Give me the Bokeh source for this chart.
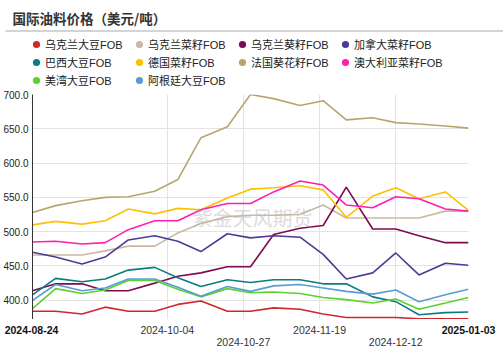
import pandas as pd
from bokeh.plotting import figure
from bokeh.layouts import column
from bokeh.models import (Range1d, FixedTicker, NumeralTickFormatter, Legend, LegendItem,
                          Label, BoxAnnotation, Grid)
from bokeh.core.properties import value
from bokeh.embed import file_html
from bokeh.resources import INLINE

# ---------------- data ----------------
dates = ["2024-08-24", "2024-08-31", "2024-09-08", "2024-09-15", "2024-09-22", "2024-09-30",
         "2024-10-07", "2024-10-14", "2024-10-22", "2024-10-29", "2024-11-05", "2024-11-13",
         "2024-11-20", "2024-11-27", "2024-12-05", "2024-12-12", "2024-12-19", "2024-12-27",
         "2025-01-03"]

names = ["乌克兰大豆FOB", "乌克兰菜籽FOB", "乌克兰葵籽FOB", "加拿大菜籽FOB",
         "巴西大豆FOB", "德国菜籽FOB", "法国葵花籽FOB", "澳大利亚菜籽FOB",
         "美湾大豆FOB", "阿根廷大豆FOB"]

ua_soy = [384, 384, 380, 390, 384, 384, 394, 399, 384, 384, 389, 387, 380, 375, 375, 375, 373, 373, 373]
ua_rape = [466, 466, 466, 472, 479, 479, 498, 512, 522, 524, 524, 525, 539, 520, 520, 520, 520, 530, 530]
ua_sun = [414, 424, 424, 414, 414, 425, 435, 440, 449, 449, 496, 505, 509, 565, 504, 504, 494, 484, 484]
ca_rape = [470, 463, 453, 463, 488, 494, 486, 471, 497, 491, 494, 492, 467, 431, 440, 469, 437, 454, 451]
br_soy = [408, 432, 427, 431, 444, 448, 433, 420, 430, 426, 430, 430, 424, 424, 405, 398, 379, 382, 383]
de_rape = [510, 515, 511, 516, 533, 526, 534, 532, 549, 562, 564, 567, 561, 521, 552, 564, 548, 558, 531]
fr_sun = [528, 538, 545, 550, 551, 559, 576, 637, 653, 700, 694, 684, 691, 663, 666, 659, 657, 654, 651]
au_rape = [485, 486, 482, 484, 503, 516, 516, 532, 541, 541, 558, 574, 568, 539, 535, 551, 548, 533, 530]
us_soy = [388, 417, 410, 415, 429, 429, 416, 405, 417, 411, 412, 410, 404, 401, 396, 402, 387, 396, 404]
ar_soy = [400, 423, 414, 418, 431, 431, 419, 406, 420, 413, 421, 423, 418, 413, 409, 415, 398, 408, 416]

series = [ua_soy, ua_rape, ua_sun, ca_rape, br_soy, de_rape, fr_sun, au_rape, us_soy, ar_soy]
colors = ["#d0262d", "#c9b9a3", "#7e0a52", "#4b3b94", "#0a7b83",
          "#ffc000", "#b6a66e", "#ff1fb2", "#5bd12f", "#5b9bd5"]

y_ticks = [400, 450, 500, 550, 600, 650, 700]
x_tick_labels = ["2024-08-24", "2024-10-04", "2024-10-27", "2024-11-19", "2024-12-12", "2025-01-03"]

title_text = "国际油料价格（美元/吨）"
watermark = "紫金天风期货"

# ---------------- geometry ----------------
W = 503
HEAD_H, FOOT_H = 89, 32
MAIN_H = 351 - HEAD_H - FOOT_H
L, R, TOP = 31, 35, 5
FW = W - L - R

CJK = "Liberation Sans, Noto Sans CJK SC"

x = pd.to_datetime(dates)
ms = lambda d: pd.Timestamp(d).value // 10**6
x0, x1 = ms(dates[0]), ms(dates[-1])
tick_ms = [ms(d) for d in x_tick_labels]

# ---------------- header (title, rule, legend) ----------------
head = figure(width=W, height=HEAD_H, x_range=Range1d(0, W), y_range=Range1d(0, HEAD_H),
              x_axis_location=None, y_axis_location=None, output_backend="svg",
              toolbar_location=None, min_border=0, outline_line_color=None, frame_align=False)
head.grid.visible = False
head.add_layout(Label(x=12, y=HEAD_H - 17, x_units="screen", y_units="screen", text=title_text,
                      text_font="Noto Sans CJK SC", text_font_size="13.5px", text_font_style="bold",
                      text_color="#333333", text_baseline="middle", text_align="left"))
head.add_layout(BoxAnnotation(left=5, right=W, bottom=HEAD_H - 31, top=HEAD_H - 30,
                              fill_color="#aaaaaa", fill_alpha=1, line_color=None))
items = []
for name, vals, c in zip(names, series, colors):
    r = head.scatter(x, vals, size=10, fill_color=c, line_color=None)
    items.append(LegendItem(label=name, renderers=[r]))
legend = Legend(items=items, location=(27, 0), orientation="horizontal", ncols=4,
                glyph_width=18, glyph_height=18, label_standoff=0, spacing=0,
                label_width=85, label_height=14, padding=0, margin=0, border_line_color=None,
                background_fill_alpha=0, label_text_font=CJK,
                label_text_font_size="11px", label_text_color="#222222")
head.add_layout(legend, "center")

# ---------------- main chart ----------------
p = figure(width=W, height=MAIN_H, x_axis_type="datetime", output_backend="svg",
           toolbar_location=None, x_axis_location=None, frame_align=False,
           x_range=Range1d(x[0], x[-1]), y_range=Range1d(372, 700),
           min_border_left=L, min_border_right=R, min_border_top=TOP, min_border_bottom=0)
p.outline_line_color = None
p.xgrid.visible = False
p.add_layout(Grid(dimension=0, ticker=FixedTicker(ticks=tick_ms[1:-1]), grid_line_color="#e3e3e3"))

ya = p.yaxis[0]
ya.ticker = FixedTicker(ticks=y_ticks)
ya.formatter = NumeralTickFormatter(format="0.0")
ya.axis_line_color = "#333333"
ya.major_tick_out = 0
ya.major_tick_in = 0
ya.minor_tick_out = 0
ya.minor_tick_in = 0
ya.major_label_standoff = 4
ya.major_label_text_font = "Liberation Sans"
ya.major_label_text_font_size = "10px"
ya.major_label_text_color = "#222222"
p.ygrid.grid_line_color = "#e3e3e3"

for name, vals, c in zip(names, series, colors):
    p.line(x, vals, line_color=c, line_width=1.6)

p.add_layout(Label(x=251 - L, y=102, x_units="screen", y_units="screen",
                   text=watermark, text_font="Noto Sans CJK SC", text_font_size="20px",
                   text_color="#b0b0b0", text_alpha=0.45, text_align="center", text_baseline="middle"))

# ---------------- footer (staggered date labels) ----------------
per_px = (x1 - x0) / FW
foot = figure(width=W, height=FOOT_H, x_range=Range1d(x0 - L * per_px, x1 + R * per_px),
              y_range=Range1d(0, FOOT_H), x_axis_location=None, y_axis_location=None,
              output_backend="svg", toolbar_location=None, min_border=0,
              outline_line_color=None, frame_align=False)
foot.grid.visible = False
edge_idx = [0, len(x_tick_labels) - 1]
row1 = [i for i in range(len(x_tick_labels)) if i in edge_idx or i % 2 == 1]
row2 = [i for i in range(len(x_tick_labels)) if i not in row1]
bold = [i for i in row1 if i in edge_idx]
plain1 = [i for i in row1 if i not in edge_idx]
for idx, yrow, style, col in [(bold, FOOT_H - 10.5, "bold", "#111111"),
                              (plain1, FOOT_H - 10.5, "normal", "#333333"),
                              (row2, FOOT_H - 22.5, "normal", "#333333")]:
    foot.text(x=[tick_ms[i] for i in idx], y=[yrow] * len(idx), text=[x_tick_labels[i] for i in idx],
              text_font=value("Liberation Sans"), text_font_size=value("10.5px"),
              text_font_style=style, text_color=col, text_align="center", text_baseline="middle")

layout = column(head, p, foot, spacing=0)
open("out.html", "w").write(file_html(layout, INLINE))
